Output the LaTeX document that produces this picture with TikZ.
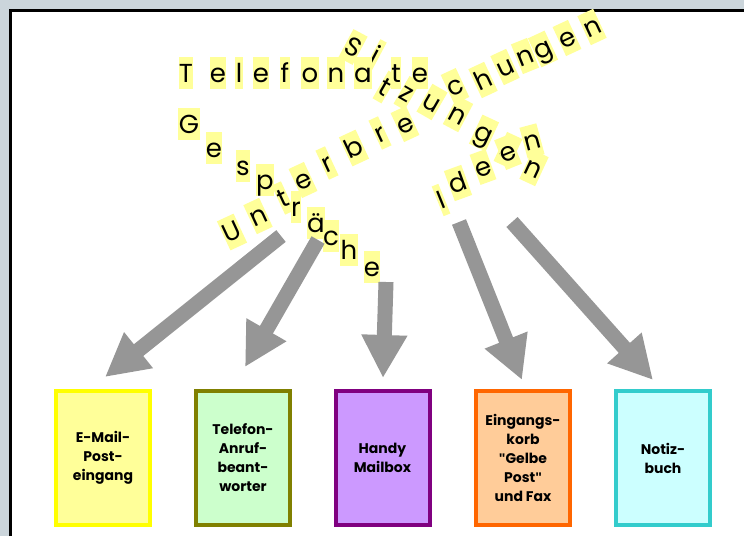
\documentclass[tikz,border=0pt]{standalone}
\usepackage{fontspec}
\setmainfont{Poppins}
\newfontfamily\quotefont{Liberation Sans}
\usetikzlibrary{arrows.meta}

\definecolor{framegray}{HTML}{CBD5DB}
\definecolor{hl}{HTML}{FFFF99}
\definecolor{arrowgray}{HTML}{969696}
\definecolor{yfill}{HTML}{FFFF99}
\definecolor{yline}{HTML}{FFFF00}
\definecolor{gfill}{HTML}{CCFFCC}
\definecolor{gline}{HTML}{808000}
\definecolor{pfill}{HTML}{CC99FF}
\definecolor{pline}{HTML}{800080}
\definecolor{ofill}{HTML}{FFCC99}
\definecolor{oline}{HTML}{FF6600}
\definecolor{cfill}{HTML}{CCFFFF}
\definecolor{cline}{HTML}{33CCCC}

% straight double quote
\newcommand{\sq}{{\quotefont\bfseries"}}

\tikzset{
  lt/.style={fill=hl, inner xsep=0.4pt, inner ysep=0pt, text height=25pt,
    text depth=7pt, anchor=center, font=\fontsize{26}{26}\selectfont},
  tray/.style={line width=4pt, minimum width=94pt, minimum height=134pt,
    inner sep=0pt, align=center, font=\bfseries\fontsize{14}{19}\selectfont},
  bigarrow/.style={draw=arrowgray, line width=15pt,
    -{Triangle[width=43pt,length=43pt]}},
}

\begin{document}
\begin{tikzpicture}[x=1pt,y=-1pt]
\useasboundingbox (0,0) rectangle (744,536);

% window frame
\fill[framegray] (0,0) rectangle (744,536);
\fill[white] (10.5,10.5) rectangle (744,536);
\draw[line width=3pt] (10.5,536) -- (10.5,10.5) -- (744,10.5);

% scattered words
\foreach \ch/\x/\y/\r [count=\i] in
  {S/353/47/-28, i/376/55/-28, t/385/87/-30, z/407/93/-30, u/432/102/-30,
   n/458/114/-28, g/484/133/-25, e/508/150/-25, n/532/141/15}
  \node[lt, rotate=\r] (sz\i) at (\x,\y) {\ch};

\foreach \ch/\x/\y/\r [count=\i] in
  {U/232/232/25, n/258/216/25, t/283/198/25, e/303/180/25, r/327/163/25,
   b/354/148/25, r/380/133/25, e/405/124/25, c/455/86/25, h/483/80/25,
   u/505/67/25, n/525/56/22, g/543/49/25, e/567/38/25, n/592/27/25}
  \node[lt, rotate=\r] (ub\i) at (\x,\y) {\ch};

\foreach \ch/\x/\y/\r [count=\i] in
  {I/441/200/22, d/458/183/20, e/483/167/20, e/508/152/22, n/534/168/-25}
  \node[lt, rotate=\r] (id\i) at (\x,\y) {\ch};

\foreach \ch/\x [count=\i] in
  {T/186, e/218, l/239, e/261, f/285, o/310, n/336, a/363, t/396, e/420}
  \node[lt] (tf\i) at (\x,73) {\ch};

\foreach \ch/\x/\y [count=\i] in
  {G/189/124, e/214/148, s/243/166, p/265/180, r/296/207, ä/316/223,
   c/331/236, h/349/250, e/372/267}
  \node[lt] (gs\i) at (\x,\y) {\ch};

% trays
\node[tray, draw=yline, fill=yfill] (mail)  at (103,458)   {E-Mail-\\Post-\\eingang};
\node[tray, draw=gline, fill=gfill] (phone) at (243,458)   {Telefon-\\Anruf-\\beant-\\worter};
\node[tray, draw=pline, fill=pfill] (handy) at (382.5,458) {Handy\\Mailbox};
\node[tray, draw=oline, fill=ofill] (korb)  at (523,458)   {Eingangs-\\korb\\\sq Gelbe\\Post\sq\\und Fax};
\node[tray, draw=cline, fill=cfill] (notiz) at (663,458)   {Notiz-\\buch};

% arrows from the word cloud down to the trays
\coordinate (s1) at (281,236); \coordinate (e1) at (105,377);
\coordinate (s2) at (318,240); \coordinate (e2) at (245,367);
\coordinate (s3) at (386,282); \coordinate (e3) at (383,378);
\coordinate (s4) at (459,222); \coordinate (e4) at (522,380);
\coordinate (s5) at (512,222); \coordinate (e5) at (653,380);
\foreach \k in {1,...,5}
  \draw[bigarrow] (s\k) -- (e\k);
\end{tikzpicture}
\end{document}
